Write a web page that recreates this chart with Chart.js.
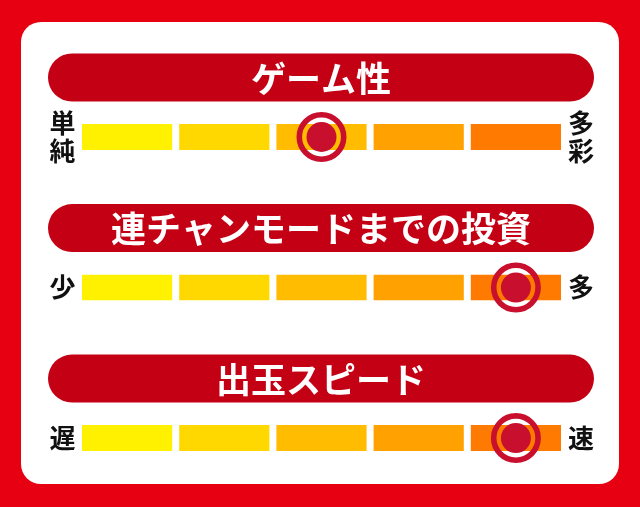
<!DOCTYPE html>
<html lang="ja">
<head>
<meta charset="utf-8">
<title>評価チャート</title>
<script src="https://cdn.jsdelivr.net/npm/chart.js@4"></script>
<style>
  html, body { margin: 0; padding: 0; }
  body { width: 640px; height: 507px; background: #e60012; position: relative; overflow: hidden; }
  #panel { position: absolute; left: 21px; top: 22px; width: 598px; height: 462px; background: #fff; border-radius: 20px; }
  #wrap { position: absolute; left: 0; top: 0; width: 640px; height: 507px; }
</style>
</head>
<body>
<div id="panel"></div>
<div id="wrap"><canvas id="chart" width="640" height="507"></canvas></div>
<script>
// 項目ごとのデータ
const titles = ["ゲーム性", "連チャンモードまでの投資", "出玉スピード"];
const leftLabels = [["単", "純"], "少", "遅"];
const rightLabels = [["多", "彩"], "多", "速"];
const ratings = [3, 5, 5];          // 5段階評価
const steps = [1, 2, 3, 4, 5];      // 目盛りの段
const stepColors = ["#fff100", "#ffd800", "#ffbc00", "#ffa100", "#ff7a00"];

const rowIdx = titles.map((t, i) => i);
const markRed = "#c8102e";
const headRed = "#c40014";
const jpFont = "'Noto Sans CJK JP', 'Noto Sans', sans-serif";

// 段ごとのバー（積み上げ）
const barSets = steps.map((s, k) => ({
  type: "bar",
  label: "段" + s,
  data: rowIdx.map(i => ({ x: 1, y: i })),
  backgroundColor: stepColors[k],
  borderColor: "#ffffff",
  borderWidth: { left: 3.5, right: 3.5, top: 0, bottom: 0 },
  borderSkipped: false,
  grouped: false,
  maxBarThickness: 26,
  xAxisID: "x",
  yAxisID: "y",
  order: 2
}));

// 評価マーカー（外側リングと中の丸）
const ringSet = {
  type: "scatter",
  label: "リング",
  data: rowIdx.map(i => ({ x: ratings[i] - 0.5, y: i })),
  pointRadius: 22.2,
  pointBackgroundColor: "rgba(0,0,0,0)",
  pointBorderColor: markRed,
  pointBorderWidth: 5.6,
  xAxisID: "xm",
  yAxisID: "y2",
  clip: false,
  order: 1
};
const dotSet = {
  type: "scatter",
  label: "評価",
  data: rowIdx.map(i => ({ x: ratings[i] - 0.5, y: i })),
  pointRadius: 15,
  pointBackgroundColor: markRed,
  pointBorderWidth: 0,
  xAxisID: "xm",
  yAxisID: "y2",
  clip: false,
  order: 0
};

// 見出しの帯を描くプラグイン
const headerPlugin = {
  id: "headers",
  beforeDatasetsDraw(chart) {
    const ctx = chart.ctx;
    const ys = chart.scales.y;
    const area = chart.chartArea;
    const left = area.left - 30.5, right = area.right + 29.5, h = 48, r = 24;
    ctx.save();
    titles.forEach((t, i) => {
      const cy = ys.getPixelForValue(i - 0.395);
      const top = cy - h / 2;
      ctx.beginPath();
      ctx.moveTo(left + r, top);
      ctx.lineTo(right - r, top);
      ctx.arc(right - r, cy, r, -Math.PI / 2, Math.PI / 2);
      ctx.lineTo(left + r, top + h);
      ctx.arc(left + r, cy, r, Math.PI / 2, Math.PI * 1.5);
      ctx.closePath();
      ctx.fillStyle = headRed;
      ctx.fill();
      ctx.fillStyle = "#ffffff";
      ctx.font = "bold 35px " + jpFont;
      ctx.textAlign = "center";
      ctx.textBaseline = "middle";
      ctx.fillText(t, (left + right) / 2, cy + 1);
    });
    ctx.restore();
  }
};

const rowTicks = scale => { scale.ticks = rowIdx.map(v => ({ value: v })); };
const fitSide = w => s => { s.width = w; s.paddingTop = 0; s.paddingBottom = 0; };
const labelFont = { family: jpFont, size: 26, weight: "bold", lineHeight: 1.08 };

new Chart(document.getElementById("chart"), {
  type: "bar",
  data: { datasets: [...barSets, ringSet, dotSet] },
  options: {
    indexAxis: "y",
    responsive: false,
    animation: false,
    events: [],
    layout: { padding: 0, autoPadding: false },
    plugins: { legend: { display: false }, tooltip: { enabled: false } },
    scales: {
      x: {
        type: "linear",
        min: 0,
        max: steps.length,
        stacked: true,
        offset: false,
        display: false
      },
      xm: {
        type: "linear",
        axis: "x",
        min: 0,
        max: steps.length,
        offset: false,
        display: false
      },
      y: {
        type: "linear",
        position: "left",
        reverse: true,
        min: -0.91,
        max: 2.458,
        offset: false,
        stacked: true,
        grid: { display: false, drawTicks: false, offset: false },
        border: { display: false },
        afterBuildTicks: rowTicks,
        afterFit: fitSide(78.5),
        ticks: {
          padding: 3,
          crossAlign: "center",
          color: "#111111",
          font: labelFont,
          callback: v => leftLabels[v]
        }
      },
      y2: {
        type: "linear",
        position: "right",
        reverse: true,
        min: -0.91,
        max: 2.458,
        offset: false,
        grid: { display: false, drawTicks: false, offset: false },
        border: { display: false },
        afterBuildTicks: rowTicks,
        afterFit: fitSide(75.5),
        ticks: {
          padding: 3.5,
          crossAlign: "center",
          color: "#111111",
          font: labelFont,
          callback: v => rightLabels[v]
        }
      }
    }
  },
  plugins: [headerPlugin]
});
</script>
</body>
</html>
